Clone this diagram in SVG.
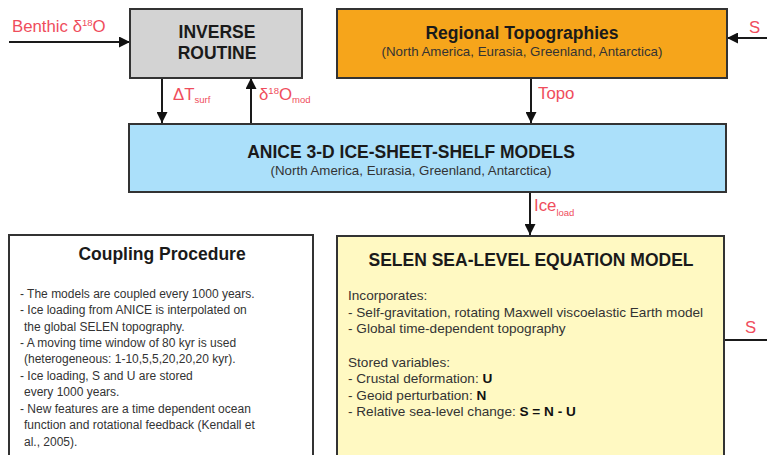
<svg xmlns="http://www.w3.org/2000/svg" width="767" height="455" viewBox="0 0 767 455">
<defs>
<style>
text{font-family:"Liberation Sans",Arial,sans-serif}
.box{stroke:#333;stroke-width:2}
.t{font-weight:bold;font-size:17.5px;fill:#1a1a1a;text-anchor:middle}
.sub{font-size:13.3px;fill:#333;text-anchor:middle}
.lbl{font-size:16.8px;fill:#ef4d5c}
.sm{font-size:9.5px}
.cb{font-size:12px;fill:#333}
.sb{font-size:13.6px;fill:#333}
.ln{stroke:#1a1a1a;stroke-width:2;fill:none}
</style>
<marker id="ah" viewBox="0 0 10 10" refX="10" refY="5" markerWidth="11" markerHeight="11" markerUnits="userSpaceOnUse" orient="auto">
<path d="M0,0 L10,5 L0,10 z" fill="#111"/>
</marker>
</defs>

<g id="connectors">
<line class="ln" x1="9" y1="42" x2="130" y2="42" marker-end="url(#ah)"/>
<line class="ln" x1="162" y1="78" x2="162" y2="123" marker-end="url(#ah)"/>
<line class="ln" x1="251" y1="123" x2="251" y2="78" marker-end="url(#ah)"/>
<line class="ln" x1="531" y1="78" x2="531" y2="123" marker-end="url(#ah)"/>
<line class="ln" x1="767" y1="38" x2="727" y2="38" marker-end="url(#ah)"/>
<line class="ln" x1="530" y1="192" x2="530" y2="235" marker-end="url(#ah)"/>
<line class="ln" x1="724" y1="340" x2="767" y2="340"/>
<text class="lbl" x="12" y="32">Benthic δ<tspan class="sm" dy="-6">18</tspan><tspan dy="6">O</tspan></text>
<text class="lbl" x="173" y="100">ΔT<tspan class="sm" dy="3">surf</tspan></text>
<text class="lbl" x="259" y="100">δ<tspan class="sm" dy="-6">18</tspan><tspan dy="6">O</tspan><tspan class="sm" dy="3">mod</tspan></text>
<text class="lbl" x="538" y="99">Topo</text>
<text class="lbl" x="749" y="33">S</text>
<text class="lbl" x="534" y="211">Ice<tspan class="sm" dy="5">load</tspan></text>
<text class="lbl" x="745" y="333">S</text>
</g>

<g id="inverse">
<rect class="box" x="130" y="9" width="172" height="69" fill="#d3d3d3"/>
<text class="t" x="217" y="38">INVERSE</text>
<text class="t" x="217" y="59">ROUTINE</text>
</g>

<g id="topographies">
<rect class="box" x="337" y="9" width="390" height="69" fill="#f6a51b"/>
<text class="t" x="522" y="39">Regional Topographies</text>
<text class="sub" x="522" y="56">(North America, Eurasia, Greenland, Antarctica)</text>
</g>

<g id="anice">
<rect class="box" x="129" y="124" width="597" height="68" fill="#abe0fa"/>
<text class="t" x="411" y="158">ANICE 3-D ICE-SHEET-SHELF MODELS</text>
<text class="sub" x="411" y="175">(North America, Eurasia, Greenland, Antarctica)</text>
</g>

<g id="coupling">
<rect class="box" x="9" y="235" width="304" height="240" fill="#fff"/>
<text class="t" x="162" y="260">Coupling Procedure</text>
<text class="cb" x="20" y="298">- The models are coupled every 1000 years.</text>
<text class="cb" x="20" y="314">- Ice loading from ANICE is interpolated on</text>
<text class="cb" x="24" y="330.5">the global SELEN topography.</text>
<text class="cb" x="20" y="347">- A moving time window of 80 kyr is used</text>
<text class="cb" x="24" y="363">(heterogeneous: 1-10,5,5,20,20,20 kyr).</text>
<text class="cb" x="20" y="379.5">- Ice loading, S and U are stored</text>
<text class="cb" x="24" y="396">every 1000 years.</text>
<text class="cb" x="20" y="412.5">- New features are a time dependent ocean</text>
<text class="cb" x="24" y="429">function and rotational feedback (Kendall et</text>
<text class="cb" x="24" y="445.5">al., 2005).</text>
</g>

<g id="selen">
<rect class="box" x="337" y="236" width="387" height="240" fill="#fff9c2"/>
<text class="t" x="531" y="266">SELEN SEA-LEVEL EQUATION MODEL</text>
<text class="sb" x="348" y="300">Incorporates:</text>
<text class="sb" x="348" y="317">- Self-gravitation, rotating Maxwell viscoelastic Earth model</text>
<text class="sb" x="348" y="333">- Global time-dependent topography</text>
<text class="sb" x="348" y="367">Stored variables:</text>
<text class="sb" x="348" y="383">- Crustal deformation: <tspan font-weight="bold" fill="#111">U</tspan></text>
<text class="sb" x="348" y="400">- Geoid perturbation: <tspan font-weight="bold" fill="#111">N</tspan></text>
<text class="sb" x="348" y="416">- Relative sea-level change: <tspan font-weight="bold" fill="#111">S = N - U</tspan></text>
</g>
</svg>
